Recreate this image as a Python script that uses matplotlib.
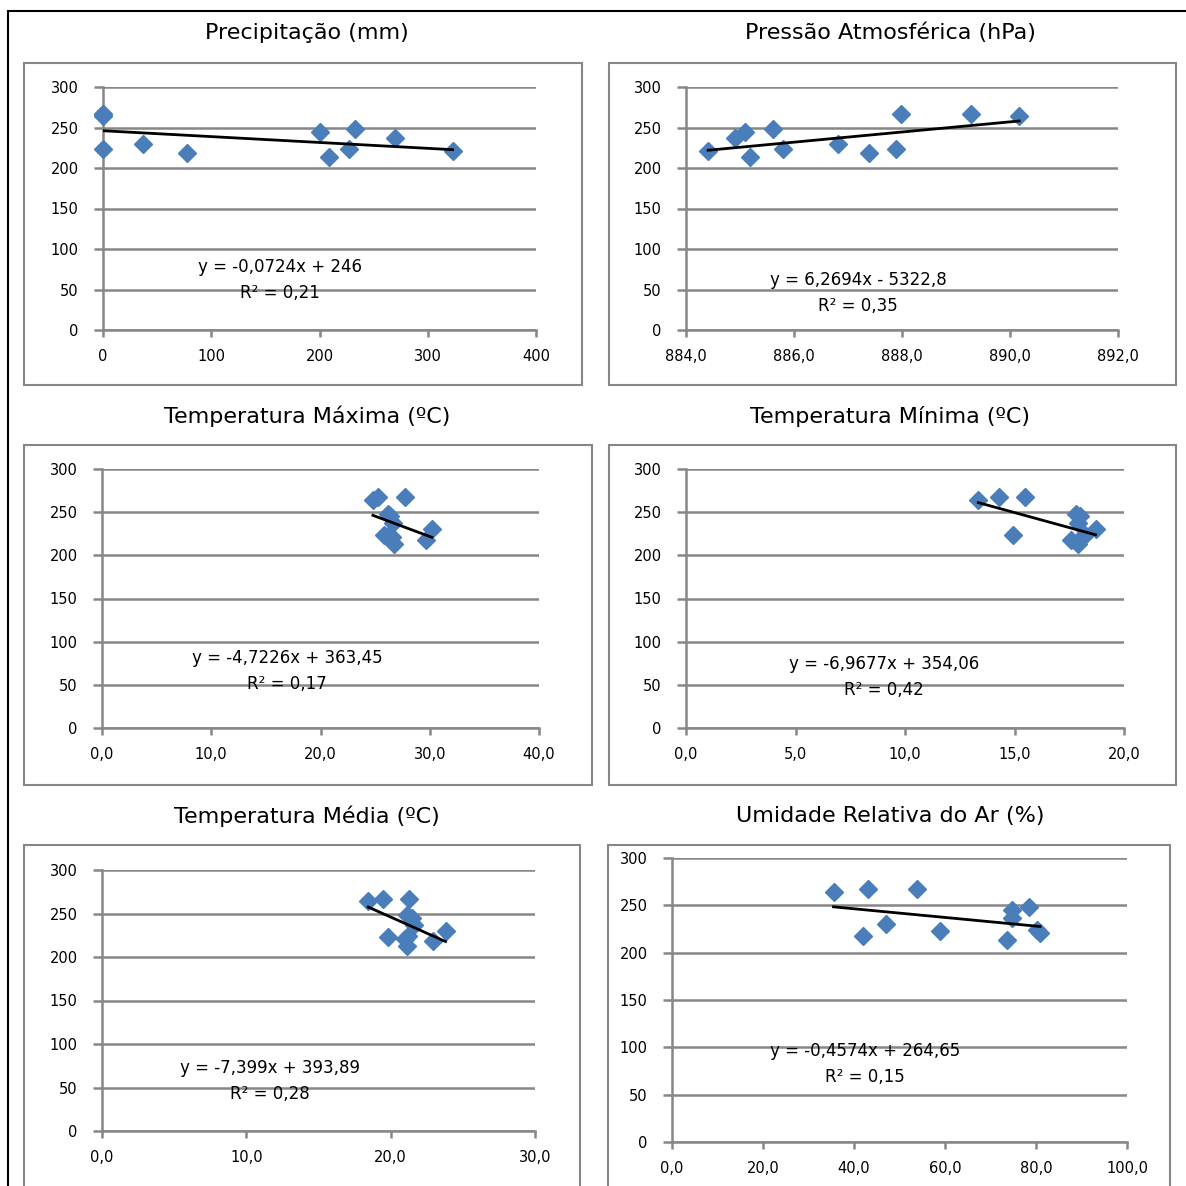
import numpy as np
import matplotlib.pyplot as plt
from matplotlib.patches import Rectangle

# shared y values (one per month)
y_vals = [264, 267, 267, 223, 230, 218, 245, 213, 224, 248, 237, 221]

# x values for each panel
precip = [0, 0, 0, 0, 37, 78, 200, 209, 227, 233, 270, 323]
pressao = [890.17, 887.98, 889.28, 887.89, 886.81, 887.38, 885.09, 885.19, 885.79, 885.62, 884.91, 884.41]
tmax = [24.8, 25.3, 27.7, 25.8, 30.2, 29.7, 26.4, 26.7, 26.3, 26.2, 26.6, 26.5]
tmin = [13.35, 14.3, 15.5, 14.95, 18.7, 17.6, 18.0, 17.9, 18.2, 17.8, 17.9, 18.1]
tmed = [18.45, 19.5, 21.3, 19.8, 23.8, 22.9, 21.5, 21.1, 21.2, 21.1, 21.6, 21.0]
umid = [35.5, 43.1, 53.9, 58.8, 47.0, 42.0, 74.7, 73.6, 80.2, 78.5, 74.7, 80.9]

titles = ["Precipitação (mm)", "Pressão Atmosférica (hPa)",
          "Temperatura Máxima (ºC)", "Temperatura Mínima (ºC)",
          "Temperatura Média (ºC)", "Umidade Relativa do Ar (%)"]
slopes = [-0.0724, 6.2694, -4.7226, -6.9677, -7.399, -0.4574]
intercepts = [246, -5322.8, 363.45, 354.06, 393.89, 264.65]
eq_labels = ["y = -0,0724x + 246", "y = 6,2694x - 5322,8", "y = -4,7226x + 363,45",
             "y = -6,9677x + 354,06", "y = -7,399x + 393,89", "y = -0,4574x + 264,65"]
r2_labels = ["R² = 0,21", "R² = 0,35", "R² = 0,17", "R² = 0,42", "R² = 0,28", "R² = 0,15"]
x_ticks = [[0, 100, 200, 300, 400], [884, 886, 888, 890, 892], [0, 10, 20, 30, 40],
           [0, 5, 10, 15, 20], [0, 10, 20, 30], [0, 20, 40, 60, 80, 100]]
x_fmt = ["{:.0f}", "{:.1f}", "{:.1f}", "{:.1f}", "{:.1f}", "{:.1f}"]
xs = [precip, pressao, tmax, tmin, tmed, umid]

W = 1186.0
GRAY = "#878787"
BLUE = "#4A7EBB"

def fx(p):
    return p / W

def fy(p):
    return 1 - p / W

# axes pixel boxes (x0, x1, ytop, ybottom)
ax_px = [(103, 536, 87, 330), (686, 1118, 87, 330), (102, 539, 469, 728),
         (686, 1124, 469, 728), (102, 535, 870, 1131), (672, 1127, 858, 1142)]
box_px = [(24, 582, 63, 385), (609, 1176, 63, 385), (24, 592, 445, 785),
          (609, 1176, 445, 785), (24, 580, 845, 1200), (608, 1170, 845, 1200)]
title_px = [(307, 33), (890, 33), (307, 416), (890, 416), (307, 816), (890, 816)]
eq_px = [(280, 267), (858, 280), (287, 658), (884, 664), (270, 1068), (865, 1051)]

fig = plt.figure(figsize=(11.86, 11.86), dpi=100)
fig.patches.append(Rectangle((fx(8), -0.05), 1.2, fy(11) + 0.05, transform=fig.transFigure,
                             fill=False, edgecolor="black", linewidth=1.5))

for i in range(6):
    bx0, bx1, by0, by1 = box_px[i]
    fig.patches.append(Rectangle((fx(bx0), fy(by1)), fx(bx1 - bx0), (by1 - by0) / W,
                                 transform=fig.transFigure, fill=False,
                                 edgecolor=GRAY, linewidth=1.5))
    x0, x1, yt, yb = ax_px[i]
    ax = fig.add_axes([fx(x0), fy(yb), fx(x1 - x0), (yb - yt) / W])
    ax.set_xlim(x_ticks[i][0], x_ticks[i][-1])
    ax.set_ylim(0, 300)
    ax.set_yticks(range(0, 301, 50))
    ax.set_xticks(x_ticks[i])
    ax.set_xticklabels([x_fmt[i].format(t).replace(".", ",") for t in x_ticks[i]])
    ax.grid(axis="y", color=GRAY, linewidth=1.8)
    ax.set_axisbelow(True)
    for s in ["top", "right"]:
        ax.spines[s].set_visible(False)
    for s in ["left", "bottom"]:
        ax.spines[s].set_color(GRAY)
        ax.spines[s].set_linewidth(1.8)
    ax.tick_params(axis="y", length=6.5, width=1.8, color=GRAY, labelsize=10.5, pad=11)
    ax.tick_params(axis="x", length=5, width=1.8, color=GRAY, labelsize=10.5, pad=9)

    x = np.array(xs[i])
    ax.plot(x, y_vals, linestyle="none", marker="D", markersize=9,
            color=BLUE, clip_on=False, zorder=3)
    xl = np.array([x.min(), x.max()])
    ax.plot(xl, slopes[i] * xl + intercepts[i], color="black", linewidth=2, zorder=4)

    tx, ty = title_px[i]
    fig.text(fx(tx), fy(ty), titles[i], ha="center", va="center", fontsize=16)
    ex, ey = eq_px[i]
    fig.text(fx(ex), fy(ey), eq_labels[i], ha="center", va="center", fontsize=12)
    fig.text(fx(ex), fy(ey + 26), r2_labels[i], ha="center", va="center", fontsize=12)

plt.savefig("out.png", dpi=100)
